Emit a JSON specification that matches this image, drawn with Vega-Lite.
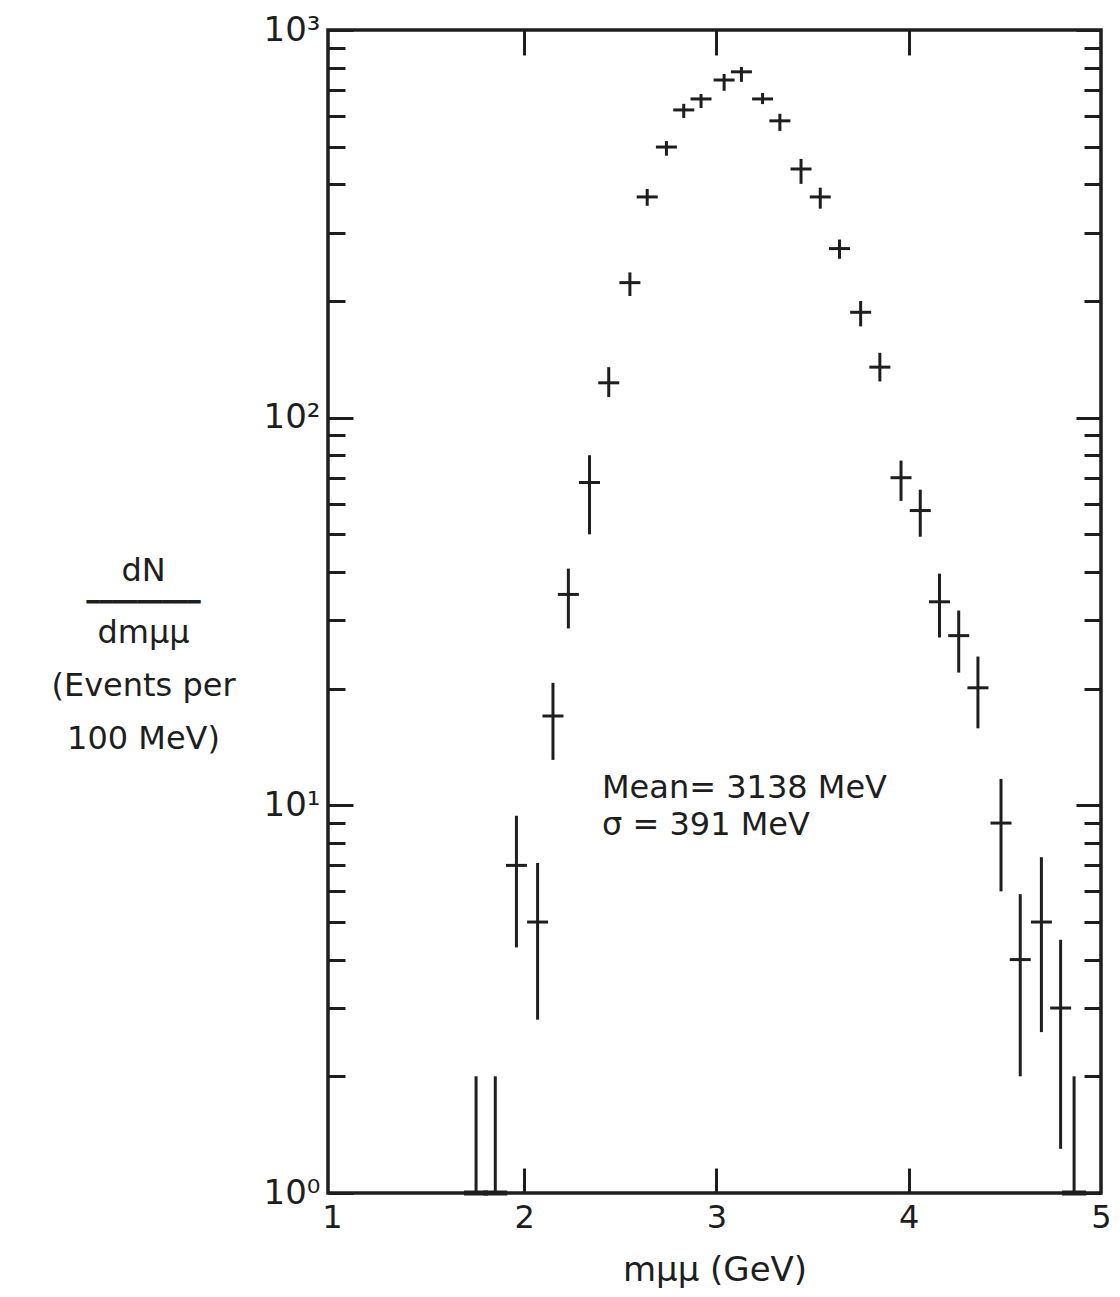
{
  "$schema": "https://vega.github.io/schema/vega-lite/v6.json",
  "width": 773,
  "height": 1163,
  "autosize": {"type": "none"},
  "padding": {"left": 328, "top": 30, "right": 19, "bottom": 104},
  "background": "white",
  "config": {
    "view": {"stroke": "#1e1e1e", "strokeWidth": 3.5},
    "font": "DejaVu Sans",
    "axis": {
      "domain": false,
      "grid": false,
      "tickColor": "#1e1e1e",
      "tickWidth": 3,
      "labelColor": "#1e1e1e",
      "titleColor": "#1e1e1e",
      "labelFont": "DejaVu Sans",
      "titleFont": "DejaVu Sans",
      "titleFontWeight": "normal"
    }
  },
  "datasets": {
    "measured": [
      {"m": 1.96, "n": 7, "lo": 4.3, "hi": 9.4},
      {"m": 2.07, "n": 5, "lo": 2.8, "hi": 7.1},
      {"m": 2.15, "n": 17, "lo": 13.1, "hi": 20.7},
      {"m": 2.23, "n": 35, "lo": 28.6, "hi": 40.8},
      {"m": 2.34, "n": 68, "lo": 50, "hi": 80},
      {"m": 2.44, "n": 123, "lo": 113, "hi": 135},
      {"m": 2.55, "n": 223, "lo": 206, "hi": 237},
      {"m": 2.64, "n": 371, "lo": 352, "hi": 389},
      {"m": 2.74, "n": 499, "lo": 474, "hi": 517},
      {"m": 2.83, "n": 622, "lo": 593, "hi": 645},
      {"m": 2.92, "n": 664, "lo": 629, "hi": 684},
      {"m": 3.04, "n": 743, "lo": 697, "hi": 770},
      {"m": 3.13, "n": 780, "lo": 735, "hi": 803},
      {"m": 3.24, "n": 664, "lo": 644, "hi": 688},
      {"m": 3.33, "n": 583, "lo": 549, "hi": 608},
      {"m": 3.44, "n": 438, "lo": 401, "hi": 465},
      {"m": 3.54, "n": 371, "lo": 346, "hi": 392},
      {"m": 3.64, "n": 273, "lo": 257, "hi": 288},
      {"m": 3.75, "n": 187, "lo": 172, "hi": 200},
      {"m": 3.85, "n": 135, "lo": 124, "hi": 147},
      {"m": 3.96, "n": 70, "lo": 61, "hi": 77.5},
      {"m": 4.06, "n": 57.6, "lo": 49.3, "hi": 65.2},
      {"m": 4.16, "n": 33.5, "lo": 27.1, "hi": 39.6},
      {"m": 4.26, "n": 27.4, "lo": 22, "hi": 31.8},
      {"m": 4.36, "n": 20.1, "lo": 15.8, "hi": 24.2},
      {"m": 4.48, "n": 9, "lo": 6, "hi": 11.7},
      {"m": 4.58, "n": 4, "lo": 2, "hi": 5.9},
      {"m": 4.69, "n": 5, "lo": 2.6, "hi": 7.35},
      {"m": 4.79, "n": 3, "lo": 1.3, "hi": 4.5}
    ],
    "floor": [
      {"m": 1.75, "n": 1, "hi": 2},
      {"m": 1.85, "n": 1, "hi": 2},
      {"m": 4.86, "n": 1, "hi": 2}
    ]
  },
  "resolve": {"axis": {"x": "independent", "y": "independent"}},
  "layer": [
    {
      "data": {"name": "measured"},
      "mark": {"type": "rule", "color": "#1e1e1e", "strokeWidth": 3},
      "encoding": {
        "x": {
          "field": "m", "type": "quantitative",
          "scale": {"domain": [0.98, 5], "nice": false, "zero": false},
          "axis": {
            "orient": "bottom", "values": [1, 2, 3, 4, 5], "ticks": false,
            "labelFontSize": 32, "labelPadding": 9, "labelFlush": false,
            "title": "mμμ (GeV)", "titleFontSize": 34,
            "titleY": 87, "titleBaseline": "alphabetic"
          }
        },
        "y": {
          "field": "lo", "type": "quantitative",
          "scale": {"type": "log", "domain": [1, 1000], "nice": false},
          "axis": {
            "orient": "left", "values": [1, 10, 100, 1000], "ticks": false,
            "labelExpr": "datum.value == 1 ? '10⁰' : datum.value == 10 ? '10¹' : datum.value == 100 ? '10²' : '10³'",
            "labelFontSize": 34, "labelPadding": 8,
            "title": "dN",
            "titleFontSize": 32, "titleAngle": 0, "titleAlign": "center",
            "titleBaseline": "alphabetic", "titleX": -185, "titleY": 550
          }
        },
        "y2": {"field": "hi"}
      }
    },
    {
      "data": {"name": "measured"},
      "mark": {"type": "tick", "orient": "horizontal", "size": 21, "thickness": 3, "color": "#1e1e1e", "opacity": 1},
      "encoding": {
        "x": {
          "field": "m", "type": "quantitative",
          "scale": {"domain": [0.98, 5], "nice": false, "zero": false},
          "axis": {"orient": "bottom", "values": [2, 3, 4], "labels": false, "tickSize": -25, "title": null}
        },
        "y": {
          "field": "n", "type": "quantitative",
          "scale": {"type": "log", "domain": [1, 1000], "nice": false},
          "axis": {
            "orient": "left", "values": [1, 10, 100, 1000], "labels": false, "tickSize": -25,
            "title": "━━━━━━━━━",
            "titleFontSize": 21, "titleAngle": 0, "titleAlign": "center",
            "titleBaseline": "alphabetic", "titleX": -185, "titleY": 578
          }
        }
      }
    },
    {
      "data": {"values": [{"note": "stats"}]},
      "mark": {
        "type": "text", "text": ["Mean= 3138 MeV", "σ = 391 MeV"],
        "align": "left", "baseline": "alphabetic", "fontSize": 32,
        "lineHeight": 37, "color": "#1e1e1e", "font": "DejaVu Sans"
      },
      "encoding": {
        "x": {
          "datum": 2.405, "type": "quantitative",
          "scale": {"domain": [0.98, 5], "nice": false, "zero": false},
          "axis": {"orient": "top", "values": [2, 3, 4], "labels": false, "tickSize": -25, "title": null}
        },
        "y": {
          "datum": 10.45, "type": "quantitative",
          "scale": {"type": "log", "domain": [1, 1000], "nice": false},
          "axis": {
            "orient": "left",
            "values": [2, 3, 4, 5, 6, 7, 8, 9, 20, 30, 40, 50, 60, 70, 80, 90, 200, 300, 400, 500, 600, 700, 800, 900],
            "labels": false, "tickSize": -17,
            "title": ["dmμμ", "(Events per", "100 MeV)"],
            "titleFontSize": 32, "titleAngle": 0, "titleAlign": "center",
            "titleBaseline": "alphabetic", "titleX": -185, "titleY": 612,
            "titleLineHeight": 53
          }
        }
      }
    },
    {
      "data": {"name": "floor"},
      "mark": {"type": "rule", "color": "#1e1e1e", "strokeWidth": 3},
      "encoding": {
        "x": {
          "field": "m", "type": "quantitative",
          "scale": {"domain": [0.98, 5], "nice": false, "zero": false},
          "axis": null
        },
        "y": {
          "field": "n", "type": "quantitative",
          "scale": {"type": "log", "domain": [1, 1000], "nice": false},
          "axis": {"orient": "right", "values": [1, 10, 100, 1000], "labels": false, "tickSize": -25, "title": null}
        },
        "y2": {"field": "hi"}
      }
    },
    {
      "data": {"name": "floor"},
      "mark": {"type": "tick", "orient": "horizontal", "size": 24, "thickness": 5, "color": "#1e1e1e", "opacity": 1},
      "encoding": {
        "x": {
          "field": "m", "type": "quantitative",
          "scale": {"domain": [0.98, 5], "nice": false, "zero": false},
          "axis": null
        },
        "y": {
          "field": "n", "type": "quantitative",
          "scale": {"type": "log", "domain": [1, 1000], "nice": false},
          "axis": {
            "orient": "right",
            "values": [2, 3, 4, 5, 6, 7, 8, 9, 20, 30, 40, 50, 60, 70, 80, 90, 200, 300, 400, 500, 600, 700, 800, 900],
            "labels": false, "tickSize": -17, "title": null
          }
        }
      }
    }
  ]
}
